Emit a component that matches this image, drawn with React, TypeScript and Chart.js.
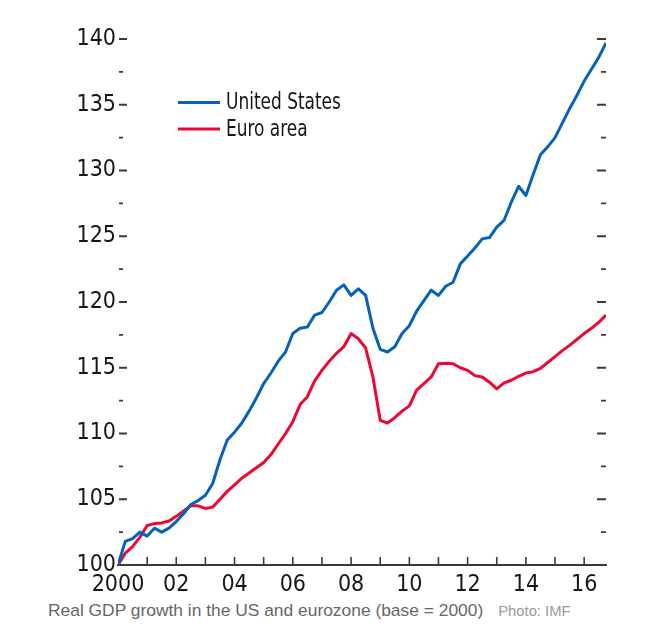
import React, { useEffect, useRef } from "react";
import { Chart, registerables } from "chart.js";

Chart.register(...registerables);

// ---- data (quarterly, 2000Q1 .. 2016Q4), index 2000 = 100 ----
const startYear = 2000;
const quartersPerYear = 4;

const seriesNames = ["United States", "Euro area"];

const usGDP = [
  100.0, 101.8, 102.0, 102.5, 102.2, 102.8, 102.5, 102.8, 103.3, 103.9,
  104.6, 104.9, 105.3, 106.2, 108.0, 109.5, 110.1, 110.8, 111.7, 112.7,
  113.8, 114.6, 115.5, 116.2, 117.6, 118.0, 118.1, 119.0, 119.2, 120.0,
  120.9, 121.3, 120.5, 121.0, 120.5, 118.0, 116.4, 116.2, 116.6, 117.6,
  118.2, 119.3, 120.1, 120.9, 120.5, 121.2, 121.5, 122.9, 123.5, 124.1,
  124.8, 124.9, 125.7, 126.2, 127.6, 128.8, 128.1, 129.7, 131.2, 131.8,
  132.5, 133.6, 134.7, 135.7, 136.8, 137.7, 138.6, 139.7,
];

const euroGDP = [
  100.0, 100.9, 101.4, 102.1, 103.0, 103.15, 103.2, 103.35, 103.7, 104.1,
  104.5, 104.5, 104.3, 104.4, 105.0, 105.6, 106.1, 106.6, 107.0, 107.4,
  107.8, 108.4, 109.2, 110.0, 110.9, 112.2, 112.8, 114.0, 114.8, 115.5,
  116.1, 116.6, 117.6, 117.2, 116.5, 114.3, 111.0, 110.8, 111.2, 111.7,
  112.1, 113.3, 113.8, 114.3, 115.3, 115.35, 115.3, 115.0, 114.8, 114.4,
  114.3, 113.9, 113.4, 113.85, 114.05, 114.35, 114.6, 114.7, 114.95, 115.4,
  115.85, 116.3, 116.7, 117.15, 117.6, 118.0, 118.45, 119.0,
];

const xTickYears = [2000, 2002, 2004, 2006, 2008, 2010, 2012, 2014, 2016];
const xTickLabels = ["2000", "02", "04", "06", "08", "10", "12", "14", "16"];
const yTickValues = [100, 105, 110, 115, 120, 125, 130, 135, 140];

const captionText = "Real GDP growth in the US and eurozone (base = 2000)";
const creditText = "Photo: IMF";

// ---- styles ----
const BLUE = "#0562BA";
const RED = "#EC0833";
const TEXT = "#161616";
const TICK = "#3a3a3a";
const FONT = '"Liberation Sans Narrow", "DejaVu Sans Condensed", "Liberation Sans", sans-serif';

const toPoints = (vals: number[]) =>
  vals.map((v, i) => ({ x: startYear + i / quartersPerYear, y: v }));

const ticksPlugin = {
  id: "customTicks",
  afterDraw(chart: any) {
    const { ctx, chartArea, scales } = chart;
    const xs = scales.x;
    const ys = scales.y;
    ctx.save();
    ctx.strokeStyle = TICK;
    ctx.lineCap = "butt";
    // x tick marks (every year), pointing up from the axis
    ctx.lineWidth = 1.6;
    for (const t of xs.ticks) {
      if (Math.abs(t.value - Math.round(t.value)) > 1e-6) continue;
      const px = xs.getPixelForValue(t.value);
      if (t.value === xs.min) continue;
      ctx.beginPath();
      ctx.moveTo(px, chartArea.bottom);
      ctx.lineTo(px, chartArea.bottom - 8);
      ctx.stroke();
    }
    // y tick marks on both sides (major and minor)
    const vals = ys.ticks.map((t: any) => t.value);
    ctx.lineWidth = 1.8;
    for (let k = 0; k < vals.length; k++) {
      const v = vals[k];
      const py = ys.getPixelForValue(v);
      if (v !== ys.min) {
        ctx.beginPath();
        ctx.moveTo(chartArea.left + 1, py);
        ctx.lineTo(chartArea.left + 9, py);
        ctx.moveTo(chartArea.right - 9, py);
        ctx.lineTo(chartArea.right, py);
        ctx.stroke();
      }
      if (k < vals.length - 1) {
        const pm = ys.getPixelForValue((v + vals[k + 1]) / 2);
        ctx.beginPath();
        ctx.moveTo(chartArea.left + 1, pm);
        ctx.lineTo(chartArea.left + 5, pm);
        ctx.moveTo(chartArea.right - 5, pm);
        ctx.lineTo(chartArea.right, pm);
        ctx.stroke();
      }
    }
    // legend
    const lx = 178;
    const ly = [102.5, 129];
    ctx.textBaseline = "middle";
    ctx.textAlign = "left";
    chart.data.datasets.forEach((ds: any, i: number) => {
      ctx.strokeStyle = ds.borderColor;
      ctx.lineWidth = 3;
      ctx.beginPath();
      ctx.moveTo(lx, ly[i]);
      ctx.lineTo(lx + 42, ly[i]);
      ctx.stroke();
      ctx.save();
      ctx.translate(lx + 48, ly[i] + 1);
      ctx.scale(0.82, 1);
      ctx.font = `23px ${FONT}`;
      ctx.fillStyle = TEXT;
      ctx.fillText(ds.label, 0, 0);
      ctx.restore();
    });
    ctx.restore();
  },
};

export default function App() {
  const ref = useRef<HTMLCanvasElement | null>(null);

  useEffect(() => {
    if (!ref.current) return;
    const chart = new Chart(ref.current, {
      type: "line",
      data: {
        datasets: [
          {
            label: seriesNames[0],
            data: toPoints(usGDP),
            borderColor: BLUE,
            borderWidth: 3,
            pointRadius: 0,
            tension: 0,
            borderJoinStyle: "round",
          },
          {
            label: seriesNames[1],
            data: toPoints(euroGDP),
            borderColor: RED,
            borderWidth: 3,
            pointRadius: 0,
            tension: 0,
            borderJoinStyle: "round",
          },
        ],
      },
      options: {
        animation: false,
        responsive: true,
        maintainAspectRatio: false,
        layout: { padding: { left: 0, right: 44, top: 39, bottom: 0 } },
        plugins: { legend: { display: false }, tooltip: { enabled: false } },
        scales: {
          x: {
            type: "linear",
            min: startYear,
            max: startYear + (usGDP.length - 1) / quartersPerYear,
            grid: { display: false, drawTicks: false },
            border: { display: true, color: TICK, width: 2 },
            afterFit: (s: any) => {
              s.height = 35;
            },
            afterBuildTicks: (s: any) => {
              const t = [];
              for (let y = startYear; y <= s.max; y++) t.push({ value: y });
              s.ticks = t;
            },
            ticks: {
              autoSkip: false,
              maxRotation: 0,
              padding: 6,
              color: TEXT,
              font: { family: FONT, size: 23 },
              callback: (v: any) => {
                const i = xTickYears.indexOf(Number(v));
                return i >= 0 ? xTickLabels[i] : "";
              },
            },
          },
          y: {
            min: yTickValues[0],
            max: yTickValues[yTickValues.length - 1],
            grid: { display: false, drawTicks: false },
            border: { display: false },
            afterFit: (s: any) => {
              s.width = 118;
            },
            afterBuildTicks: (s: any) => {
              s.ticks = yTickValues.map((v) => ({ value: v }));
            },
            ticks: {
              padding: 2,
              color: TEXT,
              font: { family: FONT, size: 23 },
              callback: (v: any) => String(v),
            },
          },
        },
      },
      plugins: [ticksPlugin],
    });
    return () => chart.destroy();
  }, []);

  return (
    <div
      style={{
        position: "fixed",
        left: 0,
        top: 0,
        width: 650,
        height: 638,
        background: "#fff",
        overflow: "hidden",
      }}
    >
      <div style={{ position: "absolute", left: 0, top: 0, width: 650, height: 600 }}>
        <canvas ref={ref} />
      </div>
      <div
        style={{
          position: "absolute",
          left: 48,
          top: 600,
          whiteSpace: "nowrap",
          fontFamily: '"Liberation Sans", Arial, sans-serif',
          fontSize: 17.4,
          color: "#666",
        }}
      >
        {captionText}
        <span style={{ fontSize: 14.8, color: "#9a9a9a", marginLeft: 15 }}>{creditText}</span>
      </div>
    </div>
  );
}
